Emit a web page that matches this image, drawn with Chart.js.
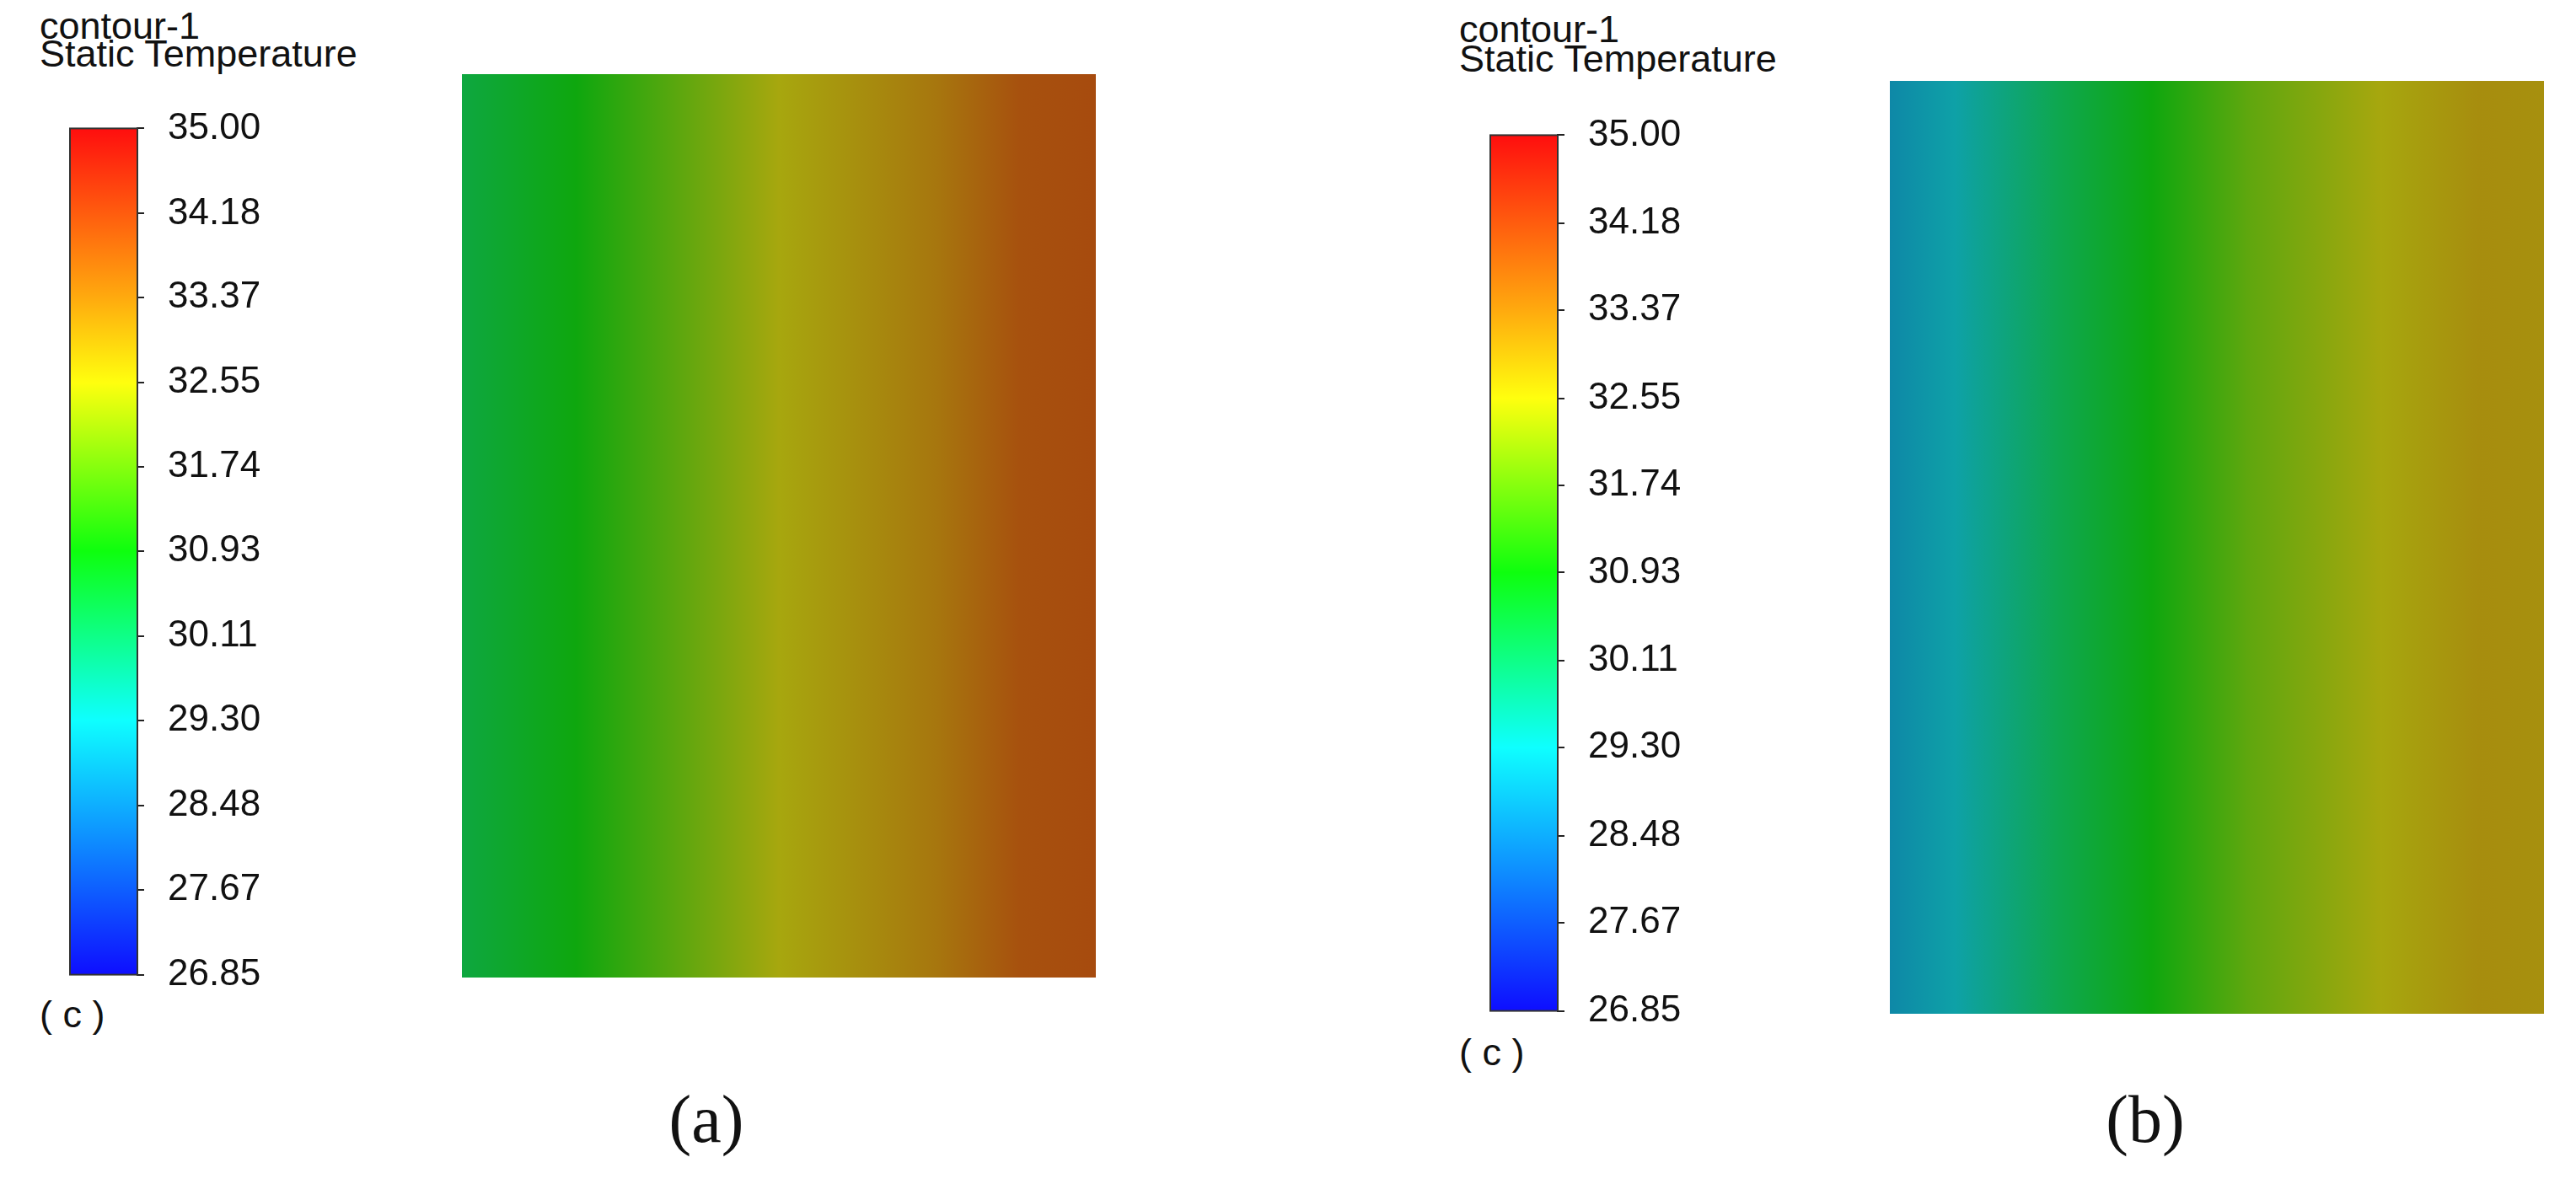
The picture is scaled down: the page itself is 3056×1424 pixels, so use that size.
<!DOCTYPE html>
<html>
<head>
<meta charset="utf-8">
<script src="https://cdn.jsdelivr.net/npm/chart.js@4"></script>
<style>
  body { margin: 0; width: 3056px; height: 1424px; background: #fff; position: relative; overflow: hidden; }
  canvas { position: absolute; }
  .t { position: absolute; font-family: "Liberation Sans", Arial, sans-serif; font-size: 45px; line-height: 1; color: #111; white-space: nowrap; }
  .p { position: absolute; font-family: "Liberation Serif", "Times New Roman", serif; font-size: 80px; line-height: 1; color: #111; transform: translateX(-50%); }
</style>
</head>
<body>
<div class="t" style="left:47px;top:8px">contour-1</div>
<div class="t" style="left:47px;top:41px">Static Temperature</div>
<div class="t" style="left:47px;top:1181px">( c )</div>
<div class="t" style="left:1731px;top:12px">contour-1</div>
<div class="t" style="left:1731px;top:47px">Static Temperature</div>
<div class="t" style="left:1731px;top:1226px">( c )</div>
<div class="p" style="left:838px;top:1288px">(a)</div>
<div class="p" style="left:2545px;top:1288px">(b)</div>

<canvas id="barA"></canvas>
<canvas id="barB"></canvas>
<canvas id="fieldA"></canvas>
<canvas id="fieldB"></canvas>

<script>
// colour legend
const tickValues = [26.85, 27.67, 28.48, 29.30, 30.11, 30.93, 31.74, 32.55, 33.37, 34.18, 35.00];
const mapValues = [26.85, 29.30, 30.93, 32.55, 33.37, 35.00];
const mapColors = [[0, 0, 255], [0, 255, 255], [0, 255, 0], [255, 255, 0], [255, 165, 0], [255, 0, 0]];

// temperature across the domain (x from 0 = left to 1 = right)
const posA = [0, 0.18, 0.35, 0.5, 0.62, 0.75, 0.88, 1];
const tempA = [30.4, 30.93, 31.8, 32.55, 32.9, 33.3, 33.9, 34.0];
const posB = [0, 0.1, 0.25, 0.4, 0.55, 0.75, 0.9, 1];
const tempB = [28.8, 29.2, 30.2, 30.93, 31.8, 32.55, 32.95, 32.9];

function jet(v) {
  let i = 0;
  while (i < mapValues.length - 2 && v > mapValues[i + 1]) i++;
  const f = Math.min(1, Math.max(0, (v - mapValues[i]) / (mapValues[i + 1] - mapValues[i])));
  return mapColors[i].map((c, k) => c + (mapColors[i + 1][k] - c) * f);
}
function rgb(c, shade) {
  return 'rgb(' + c.map(x => Math.round(x * shade + 14)).join(',') + ')';
}

function setup(id, left, top, w, h) {
  const el = document.getElementById(id);
  el.style.left = left + 'px';
  el.style.top = top + 'px';
  el.width = w; el.height = h;
  return el.getContext('2d');
}

function colourBar(id, left, top, height) {
  const pad = 54; // room Chart.js keeps for the end tick labels
  const ctx = setup(id, left, top - pad, 300, height + 2 * pad);
  new Chart(ctx, {
    type: 'scatter',
    data: { datasets: [{ data: [] }] },
    options: {
      responsive: false, animation: false, devicePixelRatio: 1,
      layout: { padding: 0 },
      plugins: { legend: { display: false }, tooltip: { enabled: false } },
      scales: {
        x: { display: false },
        y: {
          position: 'right', min: 26.85, max: 35,
          afterBuildTicks: s => { s.ticks = tickValues.map(v => ({ value: v })); },
          afterFit: s => { s.width = 219; },
          grid: { drawOnChartArea: false, tickLength: 8, color: '#222', lineWidth: 2 },
          border: { color: '#222', width: 2 },
          ticks: { color: '#111', padding: 28, font: { family: 'Liberation Sans', size: 44 },
                   callback: v => v.toFixed(2) }
        }
      }
    },
    plugins: [{
      id: 'fill',
      beforeDatasetsDraw(chart) {
        const a = chart.chartArea, y = chart.scales.y, c = chart.ctx;
        const g = c.createLinearGradient(0, a.bottom, 0, a.top);
        mapValues.forEach((v, i) => g.addColorStop((a.bottom - y.getPixelForValue(v)) / (a.bottom - a.top), rgb(mapColors[i], 0.945)));
        c.fillStyle = g;
        c.fillRect(a.left, a.top, a.right - a.left, a.bottom - a.top);
        c.strokeStyle = '#333'; c.lineWidth = 2;
        c.strokeRect(a.left + 1, a.top, a.right - a.left - 1, a.bottom - a.top);
      }
    }]
  });
}

function field(id, left, top, w, h, pos, temp) {
  const ctx = setup(id, left, top, w, h);
  new Chart(ctx, {
    type: 'scatter',
    data: { datasets: [{ data: [] }] },
    options: {
      responsive: false, animation: false, devicePixelRatio: 1,
      layout: { padding: 0 },
      plugins: { legend: { display: false }, tooltip: { enabled: false } },
      scales: { x: { display: false, min: 0, max: 1 }, y: { display: false, min: 0, max: 1 } }
    },
    plugins: [{
      id: 'field',
      beforeDatasetsDraw(chart) {
        const a = chart.chartArea, x = chart.scales.x, c = chart.ctx;
        const g = c.createLinearGradient(a.left, 0, a.right, 0);
        pos.forEach((p, i) => g.addColorStop((x.getPixelForValue(p) - a.left) / (a.right - a.left), rgb(jet(temp[i]), 0.6)));
        c.fillStyle = g;
        c.fillRect(a.left, a.top, a.right - a.left, a.bottom - a.top);
      }
    }]
  });
}

colourBar('barA', 82, 152, 1005);
colourBar('barB', 1767, 160, 1040);
field('fieldA', 548, 88, 752, 1072, posA, tempA);
field('fieldB', 2242, 96, 776, 1107, posB, tempB);
</script>
</body>
</html>
